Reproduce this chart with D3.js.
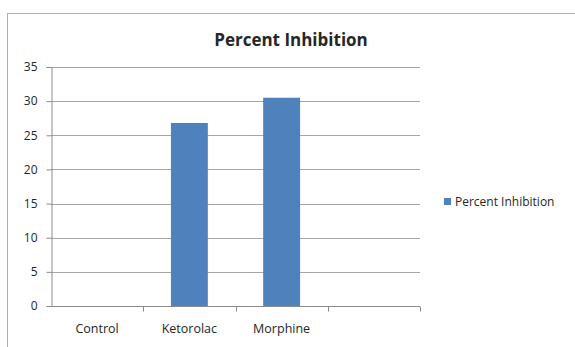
<!DOCTYPE html>
<html>
<head>
<meta charset="utf-8">
<script src="https://cdn.jsdelivr.net/npm/d3@7/dist/d3.min.js"></script>
<style>
  html, body { margin: 0; padding: 0; background: #fff; }
  svg { display: block; }
  text { font-family: "Open Sans", Lato, "Liberation Sans", sans-serif; fill: #262626; }
</style>
</head>
<body>
<svg id="chart" width="575" height="347"></svg>
<script>
// Categories along the x axis (the last slot is an empty category)
const categories = ["Control", "Ketorolac", "Morphine", ""];
// Percent inhibition per treatment
const values = [0, 26.8, 30.5, null];
// Y axis tick values
const yTicks = [0, 5, 10, 15, 20, 25, 30, 35];
const seriesName = "Percent Inhibition";
const chartTitle = "Percent Inhibition";

const svg = d3.select("#chart");
const W = 575, H = 347;

// Chart area border
svg.append("rect")
  .attr("x", 7.5).attr("y", 13.5)
  .attr("width", W + 10).attr("height", H)
  .attr("fill", "#fff").attr("stroke", "#b0b0b0").attr("stroke-width", 1);

const plot = { left: 51, right: 420, top: 67, bottom: 306 };

const x = d3.scaleBand()
  .domain(categories.map((c, i) => i))
  .range([plot.left, plot.right])
  .paddingInner(0.6).paddingOuter(0.3);

const xOuter = d3.scaleBand()
  .domain(categories.map((c, i) => i))
  .range([plot.left, plot.right]);

const y = d3.scaleLinear().domain([0, 35]).range([plot.bottom, plot.top]);

// Horizontal gridlines
svg.append("g")
  .selectAll("line")
  .data(yTicks.filter(t => t > 0))
  .join("line")
  .attr("x1", plot.left).attr("x2", plot.right)
  .attr("y1", d => Math.round(y(d)) + 0.5).attr("y2", d => Math.round(y(d)) + 0.5)
  .attr("stroke", "#a6a6a6").attr("stroke-width", 1);

// Bars
svg.append("g")
  .selectAll("rect")
  .data(values.map((v, i) => ({ v, i })).filter(d => d.v != null && d.v > 0))
  .join("rect")
  .attr("x", d => x(d.i))
  .attr("width", x.bandwidth())
  .attr("y", d => y(d.v))
  .attr("height", d => y(0) - y(d.v))
  .attr("fill", "#4f81bd");

// Y axis
const yAxis = svg.append("g")
  .attr("transform", `translate(${plot.left + 0.5},0)`)
  .call(d3.axisLeft(y).tickValues(yTicks).tickSize(5).tickPadding(9));
yAxis.select(".domain").attr("stroke", "#8c8c8c");
yAxis.selectAll(".tick line").attr("stroke", "#8c8c8c");
yAxis.selectAll(".tick text")
  .style("font-family", "'Open Sans', Lato, sans-serif")
  .style("font-size", "12px").attr("fill", "#262626");

// X axis baseline with category boundary ticks
const xg = svg.append("g").attr("transform", `translate(0,${plot.bottom + 0.5})`);
xg.append("line")
  .attr("x1", plot.left).attr("x2", plot.right)
  .attr("stroke", "#8c8c8c");
xg.selectAll("line.tick")
  .data(categories.map((c, i) => i))
  .join("line")
  .attr("class", "tick")
  .attr("x1", d => Math.round(xOuter(d) + xOuter.bandwidth()) + 0.5)
  .attr("x2", d => Math.round(xOuter(d) + xOuter.bandwidth()) + 0.5)
  .attr("y1", 0).attr("y2", 5)
  .attr("stroke", "#8c8c8c");
xg.selectAll("text")
  .data(categories.map((c, i) => ({ c, i })))
  .join("text")
  .attr("x", d => xOuter(d.i) + xOuter.bandwidth() / 2)
  .attr("y", 26)
  .attr("text-anchor", "middle")
  .style("font-size", "12.5px")
  .text(d => d.c);

// Title
svg.append("text")
  .attr("x", 291).attr("y", 46)
  .attr("text-anchor", "middle")
  .style("font-size", "17px").style("font-weight", "bold")
  .text(chartTitle);

// Legend
const lg = svg.append("g").attr("transform", "translate(444,198)");
lg.append("rect").attr("width", 7).attr("height", 7).attr("fill", "#4f81bd");
lg.append("text").attr("x", 11).attr("y", 8)
  .style("font-size", "12px").text(seriesName);
</script>
</body>
</html>
